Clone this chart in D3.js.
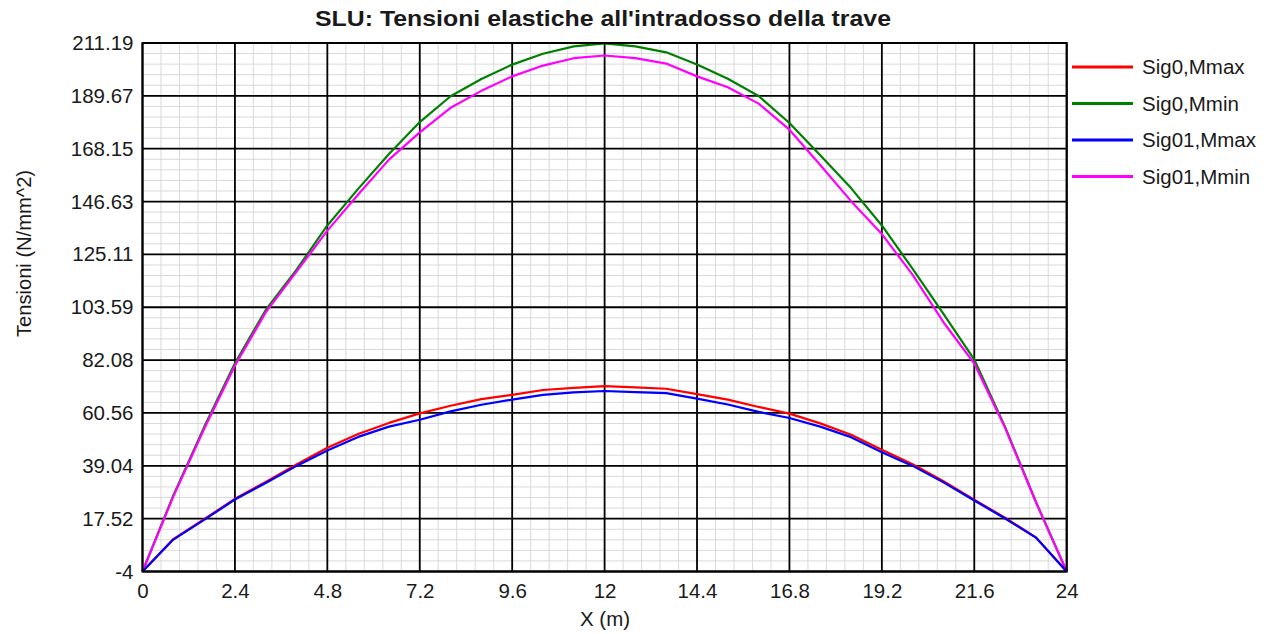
<!DOCTYPE html>
<html><head><meta charset="utf-8">
<script src="https://cdn.jsdelivr.net/npm/d3@7"></script>
<style>body{margin:0;background:#fff}svg{display:block;font-family:"Liberation Sans",Arial,sans-serif}</style>
</head><body><svg id="c" width="1268" height="634"></svg>
<script>
const xs = [0,0.8,1.6,2.4,3.2,4.0,4.8,5.6,6.4,7.2,8.0,8.8,9.6,10.4,11.2,12,12.8,13.6,14.4,15.2,16.0,16.8,17.6,18.4,19.2,20.0,20.8,21.6,22.4,23.2,24];
const sig0Mmax  = [-4,9.2,17.3,25.6,32.5,39.6,46.4,52.0,56.5,60.4,63.5,66.2,67.9,69.9,70.8,71.5,71.0,70.4,68.2,66.0,63.0,60.3,56.3,51.7,45.6,39.7,32.8,25.2,17.9,9.9,-4];
const sig0Mmin  = [-4,27.0,54.8,80.8,102.5,118.9,136.9,151.8,166.0,179.0,189.5,196.5,202.4,206.8,209.8,211.0,209.8,207.4,202.4,196.6,189.6,178.6,165.5,152.1,136.9,119.2,100.9,82.3,54.9,24.4,-4];
const sig01Mmax = [-4,9.0,17.0,25.3,32.0,39.0,45.3,50.8,55.0,57.8,61.2,63.9,66.0,67.9,68.9,69.5,69.0,68.6,66.4,64.0,61.0,58.5,55.0,50.7,44.6,39.0,32.3,24.9,17.6,9.8,-4];
const sig01Mmin = [-4,26.5,54.0,79.8,101.5,118.1,134.8,149.5,163.7,174.8,184.8,191.7,197.6,202.0,205.0,206.1,205.0,202.8,197.6,193.2,186.5,175.9,161.5,146.8,133.4,116.8,97.5,80.7,54.5,24.2,-4];
const seriesNames = ["Sig0,Mmax","Sig0,Mmin","Sig01,Mmax","Sig01,Mmin"];
const seriesColors = ["#ff0000","#008000","#0000ff","#ff00ff"];
const xTicks = [0,2.4,4.8,7.2,9.6,12,14.4,16.8,19.2,21.6,24];
const yTickLabels = ["-4","17.52","39.04","60.56","82.08","103.59","125.11","146.63","168.15","189.67","211.19"];
const title = "SLU: Tensioni elastiche all'intradosso della trave";
const xTitle = "X (m)";
const yTitle = "Tensioni (N/mm^2)";

const svg = d3.select("#c");
const L=142.5,R=1066.7,T=43,B=571.5;
const x = d3.scaleLinear().domain([0,24]).range([L,R]);
const yMin=-4, yMax=211.19;
const y = d3.scaleLinear().domain([yMin,yMax]).range([B,T]);
const yTicks = yTickLabels.map(Number);
const FS = 20.5;

// minor grid
const g = svg.append("g");
const minorX = d3.range(0,51).map(i=>i*24/50);
const minorY = d3.range(0,51).map(i=>yMin+i*(yMax-yMin)/50);
g.selectAll(".mx").data(minorX).join("line").attr("x1",d=>x(d)).attr("x2",d=>x(d)).attr("y1",T).attr("y2",B).attr("stroke","#d9d9d9").attr("stroke-width",1);
g.selectAll(".my").data(minorY).join("line").attr("y1",d=>y(d)).attr("y2",d=>y(d)).attr("x1",L).attr("x2",R).attr("stroke","#d9d9d9").attr("stroke-width",1);
// major grid
g.selectAll(".Mx").data(xTicks).join("line").attr("x1",d=>x(d)).attr("x2",d=>x(d)).attr("y1",T).attr("y2",B).attr("stroke","#000").attr("stroke-width",1.8);
g.selectAll(".My").data(yTicks).join("line").attr("y1",d=>y(d)).attr("y2",d=>y(d)).attr("x1",L).attr("x2",R).attr("stroke","#000").attr("stroke-width",1.8);

// axes labels via d3 axes
const xAxis = d3.axisBottom(x).tickValues(xTicks).tickSize(0).tickPadding(12).tickFormat(d=>String(d));
const ax = svg.append("g").attr("transform",`translate(0,${B})`).call(xAxis);
ax.select(".domain").remove();
ax.selectAll("text").attr("font-size",FS).attr("fill","#1a1a1a").attr("font-family","Liberation Sans, Arial, sans-serif");
const yAxis = d3.axisLeft(y).tickValues(yTicks).tickSize(0).tickPadding(9).tickFormat((d,i)=>yTickLabels[i]);
const ay = svg.append("g").attr("transform",`translate(${L},0)`).call(yAxis);
ay.select(".domain").remove();
ay.selectAll("text").attr("font-size",FS).attr("fill","#1a1a1a").attr("font-family","Liberation Sans, Arial, sans-serif");

// curves
const allSeries = [sig0Mmax,sig0Mmin,sig01Mmax,sig01Mmin];
const line = d3.line().x((d,i)=>x(xs[i])).y(d=>y(d));
[1,3,0,2].forEach(k=>{
  svg.append("path").attr("d",line(allSeries[k])).attr("fill","none").attr("stroke",seriesColors[k]).attr("stroke-width",2.2).attr("stroke-linejoin","round");
});

// border
svg.append("rect").attr("x",L).attr("y",T).attr("width",R-L).attr("height",B-T).attr("fill","none").attr("stroke","#000").attr("stroke-width",2);

// titles
svg.append("text").attr("x",603).attr("y",26).attr("text-anchor","middle").attr("font-size",22).attr("font-weight","bold").attr("fill","#1a1a1a")
  .attr("textLength",576).attr("lengthAdjust","spacingAndGlyphs").text(title);
svg.append("text").attr("x",605).attr("y",626).attr("text-anchor","middle").attr("font-size",FS).attr("fill","#1a1a1a").text(xTitle);
svg.append("text").attr("transform","translate(31,253.5) rotate(-90)").attr("text-anchor","middle").attr("font-size",20).attr("fill","#1a1a1a")
  .attr("textLength",167).attr("lengthAdjust","spacingAndGlyphs").text(yTitle);

// legend
const lg = svg.append("g");
const legY = [67,103.5,140,176.5];
seriesNames.forEach((n,i)=>{
  lg.append("line").attr("x1",1072).attr("x2",1133).attr("y1",legY[i]).attr("y2",legY[i]).attr("stroke",seriesColors[i]).attr("stroke-width",3);
  lg.append("text").attr("x",1142).attr("y",legY[i]).attr("dy","0.35em").attr("font-size",FS).attr("fill","#1a1a1a").text(n);
});
</script></body></html>
